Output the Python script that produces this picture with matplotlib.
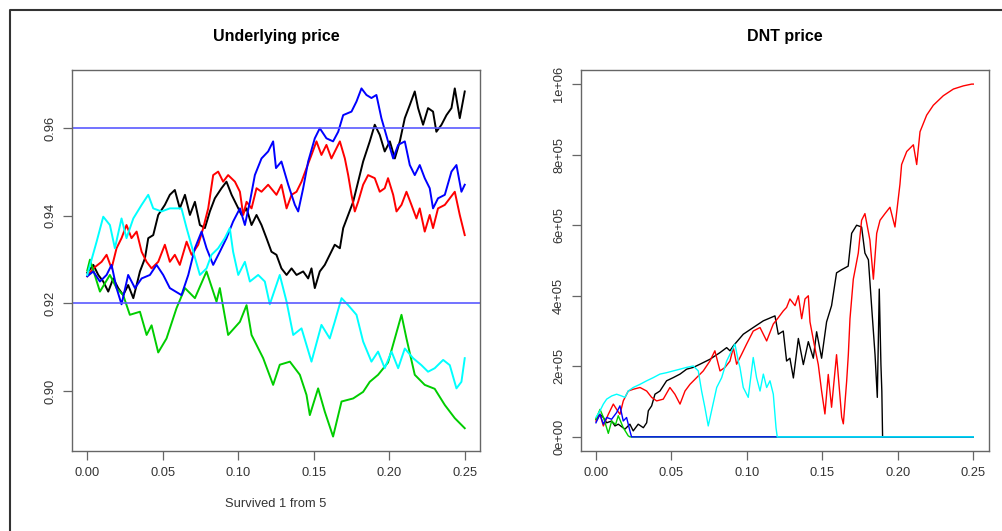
import matplotlib
matplotlib.use("Agg")
import matplotlib.pyplot as plt
from matplotlib.lines import Line2D

plt.rcParams['font.family'] = ['Liberation Sans', 'DejaVu Sans']

# colours in R's default palette order: black, red, green3, blue, cyan
path_colors = ["black", "#ff0000", "#00cd00", "#0000ff", "#00ffff"]

# ---- underlying price paths (time in years, price) ----
black_t = [0, .0040, .0073, .0106, .0139, .0172, .0205, .0238, .0271, .0305,
           .0327, .0349, .0382, .0404, .0437, .0470, .0514, .0547, .0580, .0613,
           .0647, .0680, .0713, .0746, .0779, .0812, .0845, .0889, .0922, .0956,
           .0989, .1022, .1055, .1088, .1121, .1154, .1187, .1220, .1253, .1286,
           .1320, .1353, .1386, .1430, .1463, .1485, .1507, .1540, .1573, .1606,
           .1639, .1673, .1695, .1728, .1761, .1794, .1827, .1871, .1904, .1937,
           .1970, .2004, .2037, .2070, .2103, .2136, .2169, .2191, .2224, .2257,
           .2290, .2312, .2346, .2379, .2412, .2434, .2467, .25]
black_u = [.9270, .9288, .9265, .9250, .9227, .9257, .9235, .9219, .9242, .9212,
           .9242, .9273, .9303, .9349, .9356, .9402, .9425, .9448, .9459, .9417,
           .9448, .9402, .9432, .9379, .9372, .9410, .9440, .9463, .9478, .9448,
           .9425, .9402, .9417, .9379, .9402, .9379, .9349, .9318, .9311, .9280,
           .9265, .9280, .9265, .9273, .9257, .9280, .9235, .9273, .9288, .9311,
           .9334, .9326, .9372, .9402, .9432, .9478, .9524, .9570, .9608, .9585,
           .9547, .9570, .9531, .9570, .9623, .9653, .9684, .9646, .9608, .9646,
           .9638, .9592, .9608, .9630, .9646, .9691, .9623, .9684]

red_t = [0, .0040, .0095, .0128, .0161, .0194, .0227, .0260, .0293, .0327,
         .0360, .0393, .0426, .0470, .0514, .0547, .0580, .0613, .0658, .0691,
         .0735, .0768, .0801, .0834, .0867, .0900, .0933, .0978, .1011, .1033,
         .1055, .1088, .1121, .1154, .1198, .1253, .1286, .1320, .1353, .1386,
         .1419, .1452, .1485, .1518, .1551, .1584, .1617, .1650, .1673, .1706,
         .1728, .1750, .1772, .1794, .1827, .1860, .1904, .1937, .1970, .1992,
         .2026, .2048, .2081, .2114, .2147, .2180, .2202, .2235, .2268, .2290,
         .2323, .2368, .2401, .2434, .2467, .25]
red_u = [.9262, .9280, .9295, .9311, .9280, .9326, .9349, .9379, .9349, .9364,
         .9318, .9295, .9280, .9295, .9334, .9295, .9311, .9288, .9341, .9311,
         .9334, .9372, .9417, .9493, .9501, .9478, .9493, .9478, .9455, .9402,
         .9432, .9417, .9463, .9455, .9471, .9448, .9471, .9417, .9448, .9455,
         .9478, .9509, .9539, .9570, .9539, .9562, .9531, .9554, .9570, .9531,
         .9493, .9448, .9410, .9432, .9471, .9493, .9486, .9455, .9463, .9486,
         .9448, .9410, .9425, .9455, .9425, .9394, .9417, .9364, .9402, .9372,
         .9417, .9425, .9440, .9455, .9402, .9356]

green_t = [0, .0018, .0084, .0150, .0194, .0238, .0282, .0349, .0393, .0426,
           .0470, .0525, .0591, .0647, .0713, .0790, .0856, .0878, .0933, .1011,
           .1055, .1088, .1165, .1231, .1275, .1342, .1408, .1452, .1474, .1529,
           .1573, .1628, .1684, .1761, .1827, .1871, .1926, .1992, .2037, .2081,
           .2114, .2169, .2235, .2301, .2368, .2434, .25]
green_u = [.9275, .9300, .9227, .9265, .9235, .9219, .9174, .9181, .9128, .9150,
           .9088, .9120, .9189, .9235, .9212, .9273, .9204, .9235, .9128, .9158,
           .9196, .9128, .9075, .9014, .9060, .9067, .9037, .8991, .8945, .9006,
           .8953, .8896, .8976, .8983, .8998, .9021, .9037, .9065, .9120, .9174,
           .9120, .9037, .9014, .9005, .8968, .8938, .8915]

blue_t = [0, .0040, .0084, .0128, .0161, .0194, .0227, .0271, .0316, .0360,
          .0415, .0459, .0503, .0547, .0624, .0669, .0713, .0757, .0790, .0834,
          .0878, .0922, .0966, .1011, .1044, .1077, .1110, .1154, .1198, .1231,
          .1250, .1286, .1331, .1375, .1397, .1430, .1463, .1507, .1540, .1584,
          .1628, .1662, .1695, .1750, .1783, .1816, .1849, .1882, .1915, .1948,
          .1992, .2026, .2059, .2103, .2136, .2169, .2202, .2235, .2268, .2290,
          .2323, .2368, .2412, .2445, .2478, .25]
blue_u = [.9262, .9273, .9250, .9265, .9288, .9235, .9198, .9265, .9235, .9257,
          .9265, .9288, .9265, .9235, .9219, .9265, .9326, .9364, .9326, .9288,
          .9318, .9349, .9387, .9417, .9379, .9432, .9493, .9531, .9547, .9570,
          .9509, .9524, .9471, .9425, .9410, .9463, .9524, .9577, .9600, .9577,
          .9570, .9592, .9630, .9638, .9661, .9691, .9676, .9669, .9676, .9623,
          .9570, .9531, .9562, .9570, .9516, .9493, .9516, .9486, .9463, .9417,
          .9440, .9448, .9501, .9516, .9455, .9471]

cyan_t = [0, .0062, .0106, .0150, .0183, .0227, .0260, .0305, .0360, .0404,
          .0437, .0492, .0547, .0624, .0658, .0702, .0746, .0790, .0823, .0867,
          .0911, .0944, .0966, .1000, .1044, .1077, .1132, .1176, .1209, .1275,
          .1320, .1364, .1419, .1485, .1551, .1606, .1639, .1684, .1728, .1783,
          .1827, .1882, .1926, .1970, .2015, .2059, .2103, .2158, .2213, .2257,
          .2301, .2357, .2401, .2445, .2478, .25]
cyan_u = [.9265, .9341, .9398, .9379, .9326, .9394, .9349, .9394, .9425, .9448,
          .9417, .9410, .9417, .9417, .9372, .9318, .9265, .9280, .9311, .9326,
          .9349, .9372, .9318, .9265, .9295, .9250, .9265, .9250, .9198, .9265,
          .9204, .9128, .9143, .9067, .9151, .9120, .9158, .9212, .9196, .9174,
          .9113, .9067, .9090, .9052, .9090, .9052, .9097, .9075, .9059, .9044,
          .9052, .9071, .9059, .9006, .9021, .9075]

barriers = [0.92, 0.96]

# ---- DNT price paths (time, price in thousands) ----
black_dt = [0, .0027, .0049, .0071, .0104, .0126, .0148, .0192, .0225, .0247,
            .0280, .0314, .0336, .0347, .0369, .0391, .0424, .0468, .0512, .0557,
            .0601, .0645, .0689, .0755, .0822, .0866, .0888, .0910, .0976, .1042,
            .1109, .1186, .1208, .1241, .1263, .1285, .1308, .1341, .1374, .1407,
            .1440, .1462, .1495, .1528, .1561, .1594, .1628, .1671, .1694, .1727,
            .1760, .1782, .1805, .1826, .1849, .1864, .1877, .1888, .1894, .1899,
            .25]
black_dnt = [50, 64, 55, 40, 45, 31, 36, 22, 36, 17,
             36, 26, 40, 74, 88, 121, 130, 159, 168, 178,
             192, 197, 206, 220, 239, 253, 244, 258, 291, 310,
             329, 343, 291, 300, 215, 223, 167, 279, 205, 270,
             223, 298, 223, 326, 372, 465, 474, 484, 577, 600,
             595, 521, 502, 372, 233, 112, 419, 205, 130, 0,
             0]

red_dt = [0, .0027, .0049, .0082, .0115, .0137, .0159, .0181, .0214, .0247,
          .0292, .0336, .0369, .0402, .0446, .0490, .0523, .0557, .0590, .0623,
          .0667, .0711, .0755, .0788, .0822, .0855, .0888, .0910, .0932, .0965,
          .0998, .1042, .1087, .1131, .1175, .1208, .1241, .1263, .1285, .1319,
          .1341, .1363, .1385, .1407, .1418, .1451, .1473, .1495, .1517, .1539,
          .1561, .1594, .1628, .1639, .1661, .1672, .1683, .1705, .1738, .1760,
          .1782, .1815, .1838, .1860, .1882, .1915, .1948, .1981, .2014, .2025,
          .2059, .2103, .2125, .2147, .2191, .2235, .2301, .2368, .2434, .2489,
          .25]
red_dnt = [45, 64, 31, 64, 93, 78, 64, 102, 130, 135,
           140, 130, 112, 102, 107, 140, 121, 93, 130, 149,
           168, 187, 215, 244, 187, 197, 215, 253, 206, 234,
           263, 300, 310, 272, 320, 338, 357, 367, 391, 372,
           400, 335, 391, 400, 326, 251, 205, 130, 65, 177,
           84, 233, 56, 37, 158, 233, 335, 447, 521, 614,
           633, 558, 447, 577, 614, 633, 651, 595, 716, 772,
           809, 828, 772, 865, 912, 940, 967, 986, 995, 1000,
           1000]

green_dt = [0, .0027, .0050, .0082, .0104, .0130, .0148, .0181, .0214, .0225, .25]
green_dnt = [50, 78, 55, 10, 45, 35, 60, 26, 3, 0, 0]

blue_dt = [0, .0027, .0049, .0071, .0104, .0137, .0159, .0181, .0203, .0225, .0236, .25]
blue_dnt = [40, 64, 36, 55, 50, 69, 88, 45, 55, 17, 0, 0]

cyan_dt = [0, .0027, .0049, .0071, .0104, .0137, .0170, .0192, .0214, .0247,
           .0292, .0336, .0380, .0424, .0468, .0512, .0557, .0601, .0645, .0678,
           .0700, .0722, .0744, .0766, .0800, .0833, .0866, .0899, .0921, .0943,
           .0954, .0976, .1009, .1042, .1064, .1087, .1109, .1131, .1153, .1175,
           .1193, .1201, .25]
cyan_dnt = [55, 74, 93, 107, 116, 121, 116, 112, 130, 140,
            149, 159, 168, 178, 182, 187, 192, 197, 201, 187,
            130, 83, 31, 74, 140, 168, 215, 244, 263, 215,
            197, 140, 112, 225, 168, 130, 178, 140, 159, 121,
            26, 0, 0]

x_ticks = [0.00, 0.05, 0.10, 0.15, 0.20, 0.25]
x_labels = ["0.00", "0.05", "0.10", "0.15", "0.20", "0.25"]
u_ticks = [0.90, 0.92, 0.94, 0.96]
u_labels = ["0.90", "0.92", "0.94", "0.96"]
dnt_ticks = [0, 200, 400, 600, 800, 1000]
dnt_labels = ["0e+00", "2e+05", "4e+05", "6e+05", "8e+05", "1e+06"]

under_paths = [(black_t, black_u), (red_t, red_u), (green_t, green_u),
               (blue_t, blue_u), (cyan_t, cyan_u)]
dnt_paths = [(black_dt, black_dnt), (red_dt, red_dnt), (green_dt, green_dnt),
             (blue_dt, blue_dnt), (cyan_dt, cyan_dnt)]


def r_style(ax):
    for s in ax.spines.values():
        s.set_color("#666666")
        s.set_linewidth(1.0)
    ax.tick_params(direction="out", length=6.5, width=0.9, color="#666666",
                   labelsize=9.3, labelcolor="#333333", pad=5)
    for lab in ax.get_yticklabels():
        lab.set_rotation(90)
        lab.set_va("center")


fig = plt.figure(figsize=(10.02, 5.31), dpi=100)
ax1 = fig.add_axes([72 / 1002, 1 - 451 / 531, 408 / 1002, 381 / 531])
ax2 = fig.add_axes([581 / 1002, 1 - 451 / 531, 408 / 1002, 381 / 531])

# left: underlying price
for (t, v), c in zip(under_paths, path_colors):
    ax1.plot(t, v, color=c, linewidth=1.4)
for b in barriers:
    ax1.axhline(b, color="#5a5aff", linewidth=1.2)
ax1.set_xlim(-0.0101, 0.2601)
ax1.set_ylim(0.8863, 0.9733)
ax1.set_xticks(x_ticks)
ax1.set_xticklabels(x_labels)
ax1.set_yticks(u_ticks)
ax1.set_yticklabels(u_labels)
ax1.set_title("Underlying price", fontsize=11.5, fontweight="bold", pad=21)
ax1.set_xlabel("Survived 1 from 5", fontsize=9.3, color="#333333", labelpad=14)
r_style(ax1)

# right: DNT price
for (t, v), c in zip(dnt_paths, path_colors):
    ax2.plot(t, [x * 1000 for x in v], color=c, linewidth=1.0)
ax2.set_xlim(-0.0099, 0.2604)
ax2.set_ylim(-40000, 1040000)
ax2.set_xticks(x_ticks)
ax2.set_xticklabels(x_labels)
ax2.set_yticks([x * 1000 for x in dnt_ticks])
ax2.set_yticklabels(dnt_labels)
ax2.set_title("DNT price", fontsize=11.5, fontweight="bold", pad=21)
r_style(ax2)

# outer frame (left and top edges visible)
fig.add_artist(Line2D([10 / 1002, 10 / 1002, 1.0], [0.0, 1 - 10 / 531, 1 - 10 / 531],
                      transform=fig.transFigure, color="#333333", linewidth=1.5))

fig.savefig("out.png", dpi=100)
